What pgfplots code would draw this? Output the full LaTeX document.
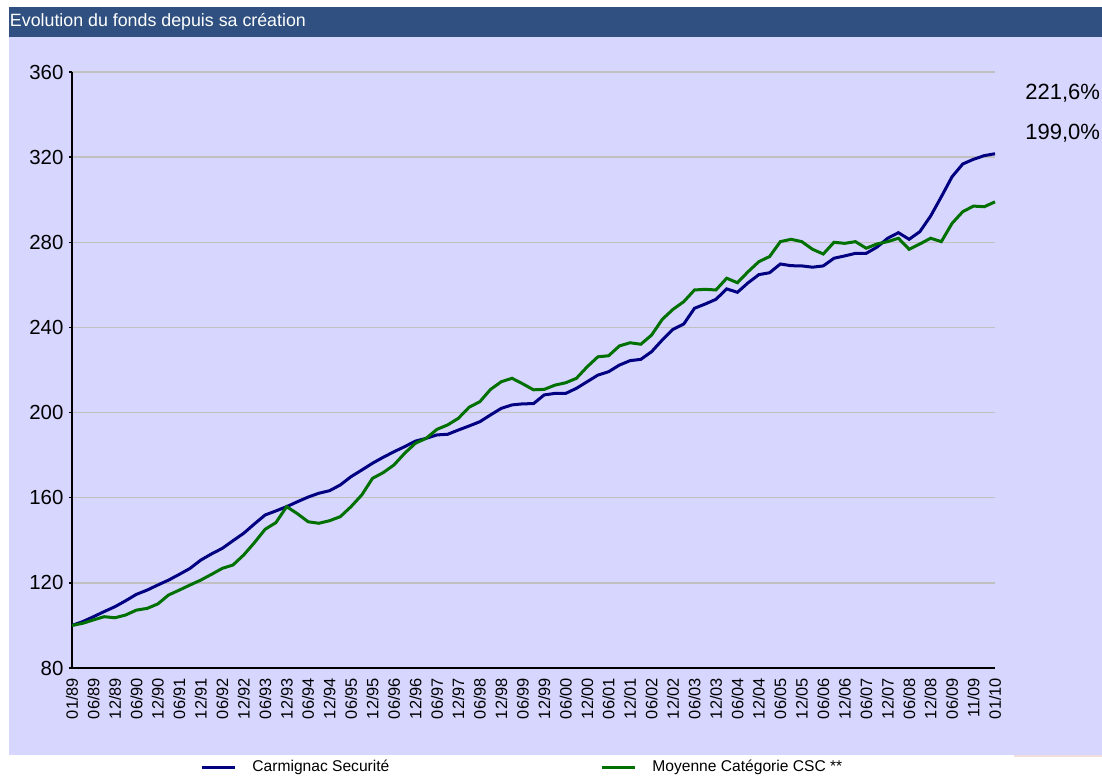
\documentclass[border=0pt]{standalone}
\usepackage{fontspec}
\setmainfont{Liberation Sans}
\usepackage{pgfplots}
\pgfplotsset{compat=1.18}
\definecolor{hdr}{RGB}{47,80,128}
\definecolor{lav}{RGB}{214,214,255}
\definecolor{fundc}{RGB}{0,0,128}
\definecolor{catc}{RGB}{0,112,0}
\definecolor{gridc}{RGB}{192,192,192}
\definecolor{pinkc}{RGB}{240,222,222}
\begin{document}
\begin{tikzpicture}
\useasboundingbox (0pt,0pt) rectangle (551pt,388.5pt);
\fill[white] (0pt,0pt) rectangle (551pt,388.5pt);
\fill[lav] (4.5pt,11pt) rectangle (551pt,370pt);
\fill[hdr] (4.5pt,370pt) rectangle (551pt,385pt);
\fill[pinkc] (507pt,10pt) rectangle (551pt,11pt);
\node[anchor=west,inner sep=0pt,text=white,font=\fontsize{8.9}{10}\selectfont] at (4.8pt,377.6pt) {Evolution du fonds depuis sa création};
\begin{axis}[
  at={(36pt,54.5pt)}, anchor=south west,
  scale only axis, width=461.5pt, height=298pt,
  xmin=0, xmax=86, ymin=80, ymax=360,
  axis lines=left, axis line style={-, black, line width=1pt},
  ytick={80,120,...,360},
  yticklabels={80,120,160,200,240,280,320,360},
  ymajorgrids, grid style={gridc, line width=0.7pt},
  ytick style={black, line width=0.7pt}, major tick length=1.5pt, tick align=outside,
  xtick={0,2,...,86},
  xtick style={draw=none},
  xticklabels={01/89,06/89,12/89,06/90,12/90,06/91,12/91,06/92,12/92,06/93,12/93,06/94,12/94,06/95,12/95,06/96,12/96,06/97,12/97,06/98,12/98,06/99,12/99,06/00,12/00,06/01,12/01,06/02,12/02,06/03,12/03,06/04,12/04,06/05,12/05,06/06,12/06,06/07,12/07,06/08,12/08,06/09,11/09,01/10},
  xticklabel style={rotate=90, anchor=east, font=\fontsize{8.2}{9}\selectfont},
  yticklabel style={font=\fontsize{10.2}{12}\selectfont, inner sep=2.6pt},
  clip=false,
  legend columns=2,
  legend image code/.code={\draw[#1] (0pt,0pt) -- (16.5pt,0pt);},
  legend style={at={(0.1387,-0.1661)}, anchor=west, draw=none, fill=none, inner sep=0pt,
    nodes={inner sep=0pt, font=\fontsize{7.8}{9}\selectfont},
    /tikz/every odd column/.append style={column sep=8pt},
    /tikz/every even column/.append style={column sep=105.5pt}},
]
\addplot[fundc, line width=1.5pt] table {
x y
0 100.0
1 101.8
2 104.1
3 106.5
4 108.8
5 111.6
6 114.6
7 116.6
8 119.0
9 121.3
10 124.0
11 126.8
12 130.7
13 133.6
14 136.2
15 139.8
16 143.3
17 147.7
18 151.9
19 153.8
20 155.8
21 158.1
22 160.3
23 162.1
24 163.3
25 166.0
26 169.9
27 173.0
28 176.2
29 179.0
30 181.6
31 184.0
32 186.6
33 187.9
34 189.5
35 189.8
36 191.8
37 193.7
38 195.7
39 198.9
40 202.0
41 203.6
42 204.1
43 204.2
44 208.3
45 209.0
46 209.0
47 211.4
48 214.5
49 217.6
50 219.2
51 222.3
52 224.4
53 225.0
54 228.6
55 234.1
56 239.1
57 241.6
58 249.0
59 251.0
60 253.2
61 258.1
62 256.5
63 261.0
64 264.8
65 265.7
66 269.8
67 269.0
68 268.9
69 268.3
70 268.9
71 272.5
72 273.6
73 274.8
74 274.8
75 277.7
76 281.9
77 284.5
78 281.4
79 285.0
80 292.3
81 301.4
82 310.8
83 316.8
84 319.0
85 320.7
86 321.6
};
\addlegendentry{Carmignac Securité}
\addplot[catc, line width=1.5pt] table {
x y
0 100.0
1 101.0
2 102.6
3 104.1
4 103.6
5 104.9
6 107.2
7 108.0
8 110.1
9 114.3
10 116.6
11 119.0
12 121.3
13 124.0
14 126.8
15 128.4
16 133.1
17 138.9
18 145.2
19 148.3
20 155.8
21 152.5
22 148.7
23 148.0
24 149.2
25 151.1
26 155.8
27 161.3
28 169.1
29 171.8
30 175.4
31 180.9
32 185.6
33 187.9
34 192.1
35 194.2
36 197.3
37 202.5
38 205.1
39 210.9
40 214.5
41 216.1
42 213.5
43 210.7
44 210.9
45 212.9
46 214.0
47 216.1
48 221.5
49 226.2
50 226.7
51 231.3
52 232.8
53 232.1
54 236.4
55 243.8
56 248.5
57 252.1
58 257.6
59 257.9
60 257.6
61 263.1
62 261.0
63 266.2
64 270.9
65 273.3
66 280.3
67 281.4
68 280.3
69 276.7
70 274.5
71 280.0
72 279.5
73 280.3
74 277.2
75 279.2
76 280.3
77 281.9
78 276.7
79 279.2
80 281.9
81 280.3
82 288.9
83 294.4
84 297.0
85 296.7
86 299.0
};
\addlegendentry{Moyenne Catégorie CSC **}
\end{axis}
\node[anchor=west,inner sep=0pt,font=\fontsize{11}{13}\selectfont] at (512.5pt,342pt) {221,6\%};
\node[anchor=west,inner sep=0pt,font=\fontsize{11}{13}\selectfont] at (512.5pt,322pt) {199,0\%};
\end{tikzpicture}
\end{document}
